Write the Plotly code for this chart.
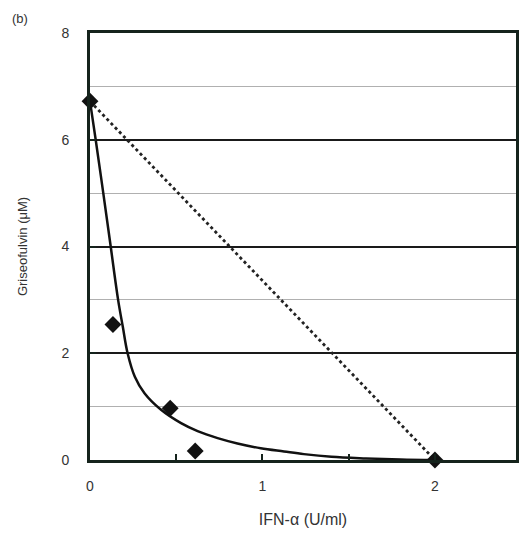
import plotly.graph_objects as go

# Data
point_x = [0, 0.133, 0.465, 0.61, 2.0]
point_y = [6.72, 2.54, 0.97, 0.17, 0.0]

curve_x = [0, 0.033, 0.077, 0.12, 0.163, 0.19, 0.218, 0.26, 0.316, 0.412, 0.528,
           0.624, 0.74, 0.855, 0.99, 1.125, 1.24, 1.4, 1.6, 1.8, 2.0]
curve_y = [6.72, 6.0, 5.0, 4.0, 3.0, 2.5, 2.0, 1.56, 1.25, 0.94, 0.69,
           0.54, 0.41, 0.31, 0.22, 0.16, 0.11, 0.06, 0.03, 0.01, 0.0]

additive_x = [0, 2.0]
additive_y = [6.72, 0.0]

x_ticks = [0, 1, 2]
x_minor = [0.5, 1.5]
y_ticks = [0, 2, 4, 6, 8]

axis_color = "#15231c"
text_color = "#333"
font_family = "Liberation Sans, Arial, sans-serif"

fig = go.Figure()
fig.add_trace(go.Scatter(x=additive_x, y=additive_y, mode="lines",
                         line=dict(color="#222", width=2.8, dash="dot"),
                         showlegend=False, hoverinfo="skip"))
fig.add_trace(go.Scatter(x=curve_x, y=curve_y, mode="lines",
                         line=dict(color="#111", width=2.5, shape="spline", smoothing=1),
                         showlegend=False, hoverinfo="skip"))
fig.add_trace(go.Scatter(x=point_x, y=point_y, mode="markers",
                         marker=dict(symbol="diamond", size=13, color="#111"),
                         showlegend=False, cliponaxis=False))

fig.update_layout(
    width=528, height=537,
    margin=dict(l=90, r=9, t=33, b=77),
    paper_bgcolor="white", plot_bgcolor="white",
    font=dict(family=font_family, size=13, color=text_color),
    annotations=[dict(text="(b)", x=-0.187, y=1.035, xref="paper", yref="paper",
                      showarrow=False, xanchor="left", yanchor="middle",
                      font=dict(size=13, color=text_color))],
)

fig.update_xaxes(
    range=[0, 2.47], tickvals=x_ticks, ticktext=[str(v) for v in x_ticks],
    showgrid=False, zeroline=False,
    showline=True, linecolor=axis_color, linewidth=3, mirror=True,
    ticks="inside", ticklen=6, tickwidth=1.5, tickcolor=axis_color,
    minor=dict(tickvals=x_minor, ticks="inside", ticklen=6, tickwidth=1.5, tickcolor=axis_color),
    title=dict(text="IFN-α (U/ml)", standoff=22, font=dict(size=16, color=text_color)),
    ticklabelstandoff=11,
    tickfont=dict(size=14),
)
fig.update_yaxes(
    range=[0, 8], tickvals=y_ticks, ticktext=[str(v) for v in y_ticks],
    showgrid=True, gridcolor="#1a1a1a", gridwidth=2, zeroline=False,
    showline=True, linecolor=axis_color, linewidth=3, mirror=True,
    ticks="inside", ticklen=6, tickwidth=1.5, tickcolor=axis_color,
    minor=dict(dtick=1, tick0=0, showgrid=True, gridcolor="#b0b0b0", gridwidth=1, ticks=""),
    title=dict(text="Griseofulvin (μM)", standoff=31, font=dict(size=13, color=text_color)),
    ticklabelstandoff=15,
    tickfont=dict(size=14),
)

fig.write_html("out.html")
